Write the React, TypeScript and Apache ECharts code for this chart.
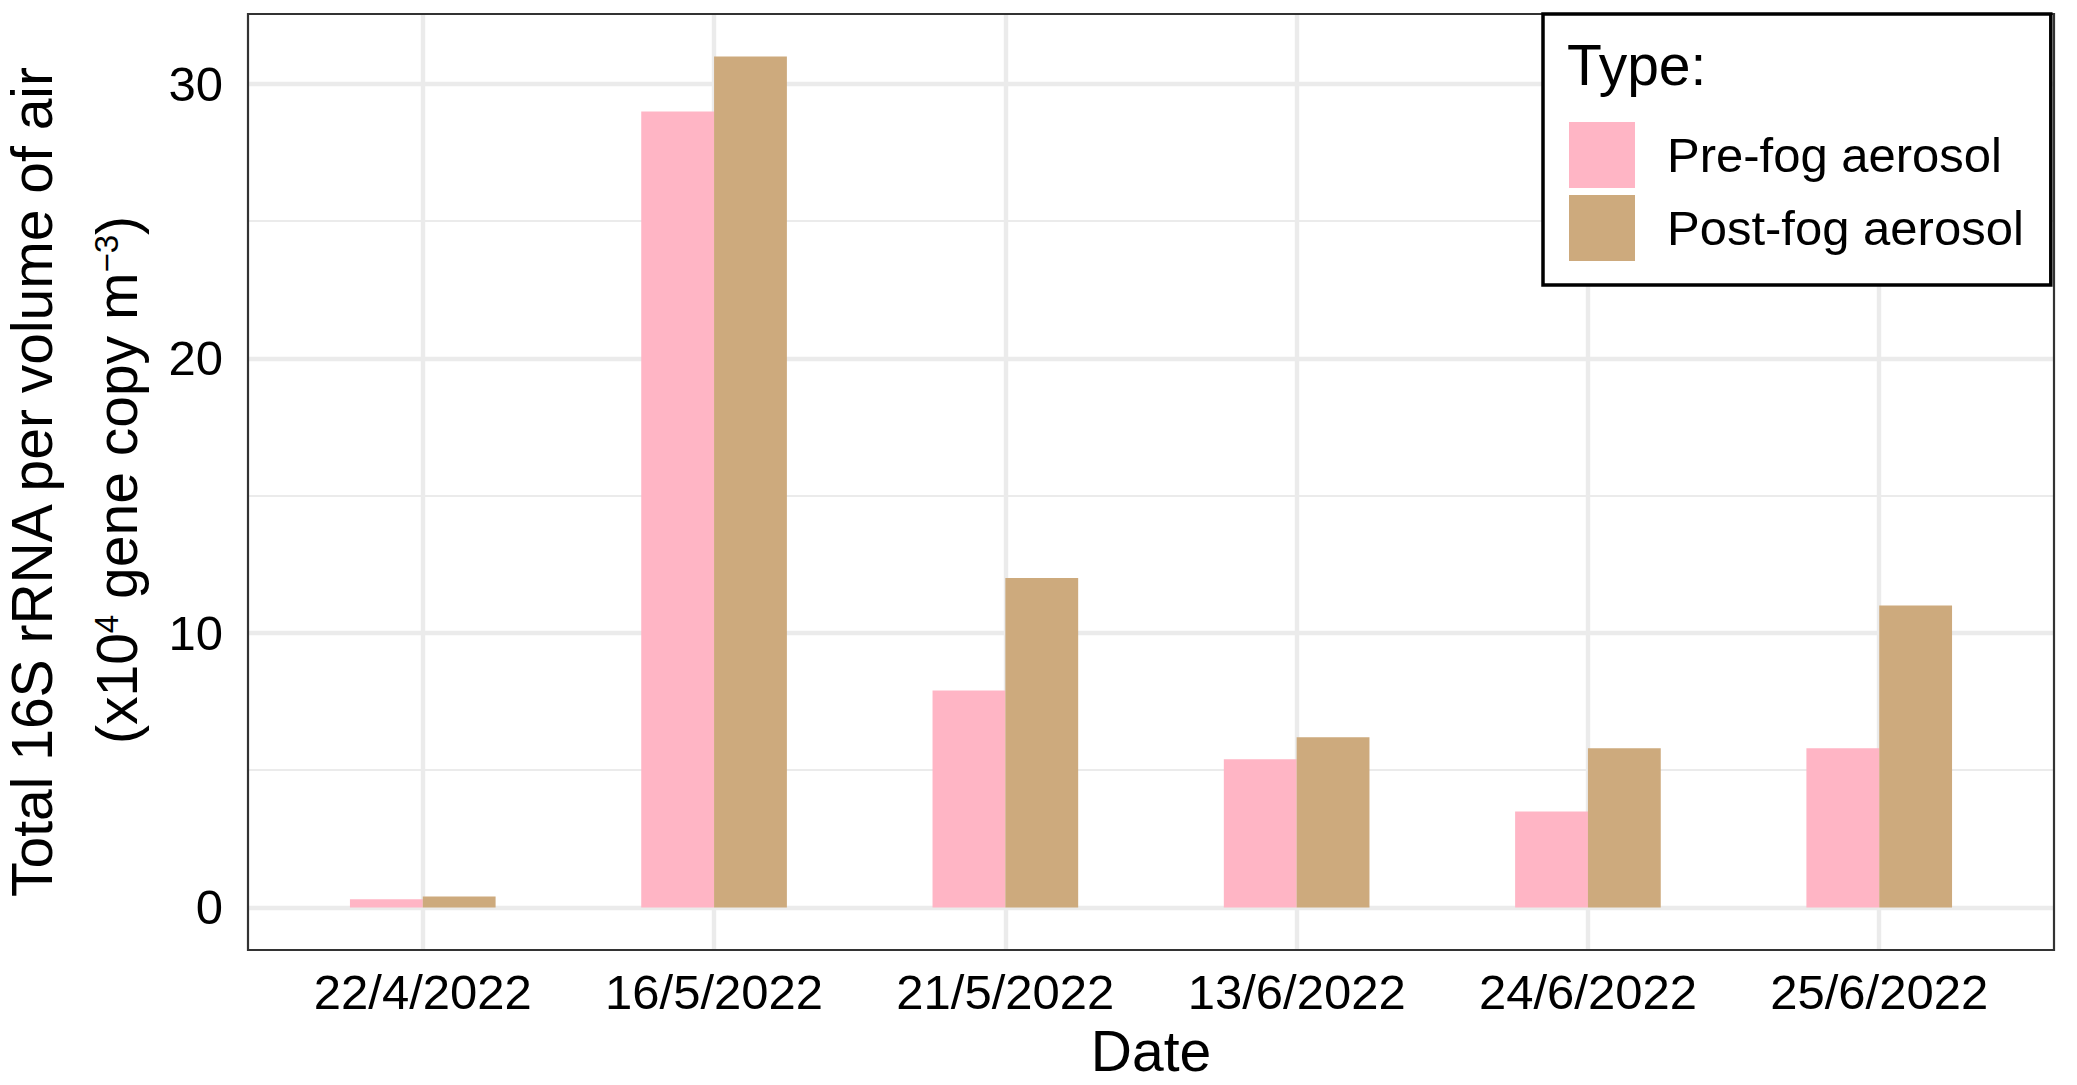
import React, { useEffect, useRef } from "react";
import * as echarts from "echarts";

const categories = ["22/4/2022", "16/5/2022", "21/5/2022", "13/6/2022", "24/6/2022", "25/6/2022"];
const preFog = [0.3, 29, 7.9, 5.4, 3.5, 5.8];
const postFog = [0.4, 31, 12.0, 6.2, 5.8, 11.0];
const seriesNames = ["Pre-fog aerosol", "Post-fog aerosol"];
const yMajorTicks = [0, 10, 20, 30];
const yMinorTicks = [5, 15, 25];
const legendTitle = "Type:";
const xTitle = "Date";
const yTitleLine1 = "Total 16S rRNA per volume of air";
const yTitleLine2Parts = ["(x10", "4", " gene copy m", "\u22123", ")"];

const FONT = "'Liberation Sans', Arial, Helvetica, sans-serif";
const PINK = "#FFB5C5";
const TAN = "#CDAA7D";
const GRID_COLOR = "#EBEBEB";
const FRAME = "#333333";

export default function App() {
  const ref = useRef<HTMLDivElement>(null);

  useEffect(() => {
    if (!ref.current) return;
    const chart = echarts.init(ref.current, undefined, { renderer: "svg" });
    const catIdx = categories.map((_, i) => i);

    const gridLines: any[] = [
      ...yMajorTicks.map((v) => ({ yAxis: v, lineStyle: { color: GRID_COLOR, width: 4.4, type: "solid" } })),
      ...yMinorTicks.map((v) => ({ yAxis: v, lineStyle: { color: GRID_COLOR, width: 2.2, type: "solid" } })),
      ...catIdx.map((i) => ({ xAxis: i, lineStyle: { color: GRID_COLOR, width: 4.4, type: "solid" } })),
    ];

    const option: any = {
      animation: false,
      backgroundColor: "#ffffff",
      textStyle: { fontFamily: FONT },
      grid: {
        left: 248,
        top: 14,
        right: 23,
        bottom: 135,
        show: true,
        z: 10,
        backgroundColor: "transparent",
        borderColor: FRAME,
        borderWidth: 2.2,
      },
      xAxis: {
        type: "value",
        min: -0.6,
        max: 5.6,
        axisLine: { show: false },
        splitLine: { show: false },
        axisTick: {
          show: true,
          customValues: catIdx,
          length: 11.5,
          lineStyle: { color: FRAME, width: 4 },
        },
        axisLabel: {
          customValues: catIdx,
          formatter: (v: number) => categories[Math.round(v)] ?? "",
          fontSize: 49,
          color: "#000000",
          fontFamily: FONT,
          margin: 17,
        },
        name: xTitle,
        nameLocation: "middle",
        nameGap: 72,
        nameTextStyle: { fontSize: 57, color: "#000000", fontFamily: FONT },
      },
      yAxis: {
        type: "value",
        min: -1.55,
        max: 32.55,
        axisLine: { show: false },
        splitLine: { show: false },
        axisTick: {
          show: true,
          customValues: yMajorTicks,
          length: 11.5,
          lineStyle: { color: FRAME, width: 4 },
        },
        axisLabel: {
          customValues: yMajorTicks,
          fontSize: 49,
          color: "#000000",
          fontFamily: FONT,
          margin: 25,
        },
      },
      legend: {
        data: seriesNames,
        orient: "vertical",
        left: 1543,
        top: 14,
        icon: "rect",
        itemWidth: 66,
        itemHeight: 66,
        itemGap: 7,
        padding: [108, 27, 24, 26],
        borderColor: "#000000",
        borderWidth: 3.5,
        backgroundColor: "#ffffff",
        selectedMode: false,
        textStyle: { fontSize: 49, color: "#000000", fontFamily: FONT, padding: [0, 0, 0, 27] },
        z: 20,
      },
      graphic: [
        {
          type: "text",
          x: 1567,
          y: 65,
          z: 30,
          style: {
            text: legendTitle,
            fontSize: 57,
            fontFamily: FONT,
            fill: "#000000",
            align: "left",
            textAlign: "left",
            verticalAlign: "middle",
            textVerticalAlign: "middle",
          },
        },
        {
          type: "text",
          x: 32,
          y: 482,
          rotation: Math.PI / 2,
          style: {
            text: yTitleLine1,
            fontSize: 57,
            lineHeight: 46,
            fontFamily: FONT,
            fill: "#000000",
            align: "center",
            textAlign: "center",
            verticalAlign: "middle",
            textVerticalAlign: "middle",
          },
        },
        {
          type: "text",
          x: 117,
          y: 480,
          rotation: Math.PI / 2,
          style: {
            text:
              "{a|" + yTitleLine2Parts[0] + "}{s|" + yTitleLine2Parts[1] + "}{a|" + yTitleLine2Parts[2] +
              "}{s|" + yTitleLine2Parts[3] + "}{a|" + yTitleLine2Parts[4] + "}",
            fontFamily: FONT,
            fill: "#000000",
            align: "center",
            textAlign: "center",
            verticalAlign: "middle",
            textVerticalAlign: "middle",
            rich: {
              a: { fontSize: 57, lineHeight: 60, fontFamily: FONT, fill: "#000000", color: "#000000" },
              s: {
                fontSize: 33,
                lineHeight: 36,
                padding: [0, 0, 22, 0],
                fontFamily: FONT,
                fill: "#000000",
                color: "#000000",
              },
            },
          },
        },
      ],
      series: [
        {
          name: "grid",
          type: "line",
          data: [],
          silent: true,
          symbol: "none",
          markLine: {
            silent: true,
            z: 1,
            symbol: ["none", "none"],
            label: { show: false },
            emphasis: { disabled: true },
            data: gridLines,
          },
        },
        {
          name: seriesNames[0],
          type: "bar",
          data: preFog.map((v, i) => [i, v]),
          barWidth: "25%",
          barGap: "0%",
          itemStyle: { color: PINK },
          emphasis: { disabled: true },
        },
        {
          name: seriesNames[1],
          type: "bar",
          data: postFog.map((v, i) => [i, v]),
          barWidth: "25%",
          barGap: "0%",
          itemStyle: { color: TAN },
          emphasis: { disabled: true },
        },
      ],
    };

    chart.setOption(option);
    return () => chart.dispose();
  }, []);

  return (
    <div
      ref={ref}
      style={{ position: "fixed", left: 0, top: 0, width: 2077, height: 1085, background: "#fff" }}
    />
  );
}
